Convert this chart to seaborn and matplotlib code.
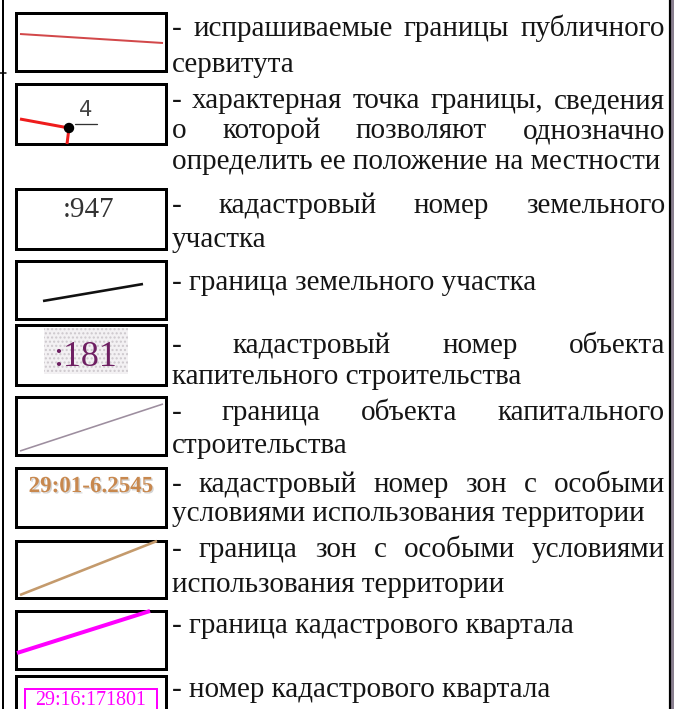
import matplotlib
matplotlib.use("Agg")
import matplotlib.pyplot as plt
import matplotlib.patheffects as pe
from matplotlib.patches import Rectangle, Circle
import seaborn as sns
import pandas as pd

sns.set_theme(style="white")
plt.rcParams['font.family'] = ['Liberation Serif', 'DejaVu Serif']

W, H = 674, 709

# ---- legend descriptions (line breaks as in the reference) ----
descriptions = [
    ["- испрашиваемые границы публичного", "сервитута"],
    ["- характерная точка границы, сведения", "о которой позволяют однозначно",
     "определить ее положение на местности"],
    ["- кадастровый номер земельного", "участка"],
    ["- граница земельного участка"],
    ["- кадастровый номер объекта", "капительного строительства"],
    ["- граница объекта капитального", "строительства"],
    ["- кадастровый номер зон с особыми", "условиями использования территории"],
    ["- граница зон с особыми условиями", "использования территории"],
    ["- граница кадастрового квартала"],
    ["- номер кадастрового квартала"],
]
baselines = [
    [36, 72],
    [108, 138, 169],
    [213, 247],
    [290],
    [353, 384],
    [420, 453],
    [492, 521],
    [557, 592],
    [633],
    [697],
]
box_top = [13, 84, 189, 261, 325, 397, 468, 541, 611, 676]
box_bottom = [71, 144, 249, 319, 385, 455, 527, 598, 669, 716]

# ---- symbol samples ----
serv_x, serv_y = [20, 163], [34, 43]
pt_line_x, pt_line_y = [20, 69], [119, 128]
pt_tail_x, pt_tail_y = [69, 67], [128, 144]
pt_label = "4"
parcel_label = ":947"
parcel_x, parcel_y = [43, 143], [301, 284]
building_label = ":181"
building_x, building_y = [20, 163], [451, 404]
zone_label = "29:01-6.2545"
zone_x, zone_y = [20, 157], [595, 541]
quarter_x, quarter_y = [17, 150], [653, 611]
quarter_label = "29:16:171801"

fig = plt.figure(figsize=(W / 100, H / 100), dpi=100)
ax = fig.add_axes([0, 0, 1, 1])
ax.set_xlim(0, W)
ax.set_ylim(H, 0)
ax.axis("off")
fig.patch.set_facecolor("white")

px = 0.72  # px -> pt

# outer frame lines
ax.plot([2.5, 2.5], [0, H], color="black", lw=2 * px)
ax.plot([0, 6], [73, 73], color="black", lw=1.5 * px)
ax.plot([669.5, 669.5], [0, H], color="black", lw=2.2 * px)
ax.add_patch(Rectangle((671, 0), 3, H, facecolor="#8a8090", edgecolor="none"))

# boxes
for t, b in zip(box_top, box_bottom):
    ax.add_patch(Rectangle((16, t), 150, b - t, facecolor="white",
                           edgecolor="black", lw=3 * px))

def seg(xs, ys, color, lw):
    df = pd.DataFrame({"x": xs, "y": ys})
    sns.lineplot(data=df, x="x", y="y", ax=ax, color=color, lw=lw * px,
                 sort=False, estimator=None, solid_capstyle="butt")

seg(serv_x, serv_y, "#d2484a", 2)
seg(pt_line_x, pt_line_y, "#ee1c1c", 3)
seg(pt_tail_x, pt_tail_y, "#ee1c1c", 3)
ax.add_patch(Circle((69, 128), 4.5, color="black", zorder=5))
ax.plot([75, 97], [124, 124], color="#333333", lw=1.3 * px)
ax.text(86, 116, pt_label, fontsize=21 * px, family=["DejaVu Sans"], color="#444444",
        ha="center", va="baseline")

ax.text(89, 217, parcel_label, fontsize=29 * px, color="#333333", ha="center", va="baseline")
seg(parcel_x, parcel_y, "#111111", 2.6)

ax.add_patch(Rectangle((44, 328), 84, 46, facecolor="#f3f1f3", edgecolor="#cdc8cd",
                       lw=0, hatch="...."))
ax.text(85, 366, building_label, fontsize=36 * px, color="#6e1f62", ha="center", va="baseline")

seg(building_x, building_y, "#9d8e9f", 1.6)

ax.text(91, 492, zone_label, fontsize=23 * px, color="#c8884e", ha="center",
        va="baseline", fontweight="bold",
        path_effects=[pe.withSimplePatchShadow(offset=(1, -1), shadow_rgbFace="#a0a0a0", alpha=0.45)])
seg(zone_x, zone_y, "#c49a6c", 2.6)
seg(quarter_x, quarter_y, "#ff00ff", 4)

ax.add_patch(Rectangle((25, 689), 132, 30, facecolor="white", edgecolor="#ff00ff", lw=2 * px))
ax.text(91, 705, quarter_label, fontsize=20 * px, color="#ff00ff", ha="center", va="baseline")

# ---- justified description text ----
renderer = fig.canvas.get_renderer()
text_color = "#151515"
x_left, x_right = 172, 665

# calibrate font size from a reference line width
probe = ax.text(0, 0, "- граница земельного участка", fontsize=10)
w10 = probe.get_window_extent(renderer).width
probe.remove()
fs = 10 * 366 / w10

for lines, ys in zip(descriptions, baselines):
    for i, (line, y) in enumerate(zip(lines, ys)):
        last = i == len(lines) - 1
        words = line.split(" ")
        if last or len(words) == 1:
            ax.text(x_left, y, line, fontsize=fs, color=text_color, va="baseline", ha="left")
            continue
        widths = []
        for wd in words:
            t = ax.text(0, 0, wd, fontsize=fs)
            widths.append(t.get_window_extent(renderer).width)
            t.remove()
        gap = (x_right - x_left - sum(widths)) / (len(words) - 1)
        x = x_left
        for wd, wdt in zip(words, widths):
            ax.text(x, y, wd, fontsize=fs, color=text_color, va="baseline", ha="left")
            x += wdt + gap

fig.savefig("out.png", dpi=100, facecolor="white")
